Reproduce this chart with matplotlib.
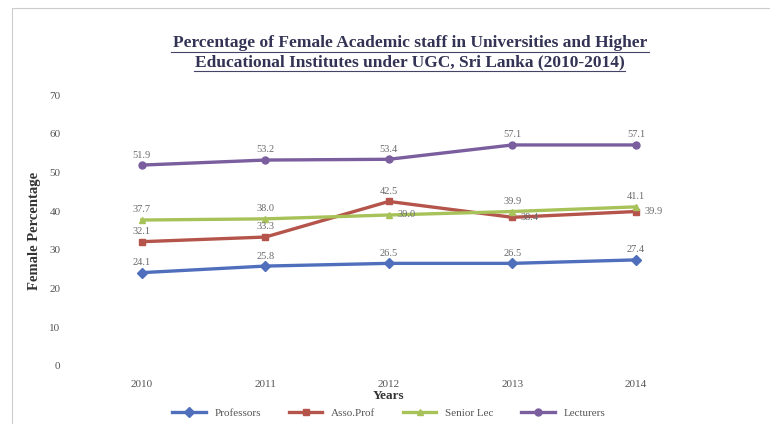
import matplotlib.pyplot as plt
from matplotlib.lines import Line2D

years = ["2010", "2011", "2012", "2013", "2014"]
professors = [24.1, 25.8, 26.5, 26.5, 27.4]
assoc_prof = [32.1, 33.3, 42.5, 38.4, 39.9]
senior_lec = [37.7, 38.0, 39.0, 39.9, 41.1]
lecturers = [51.9, 53.2, 53.4, 57.1, 57.1]

series = [
    ("Professors", professors, "#4F6FBD", "D"),
    ("Asso.Prof", assoc_prof, "#B5544A", "s"),
    ("Senior Lec", senior_lec, "#A8C25A", "^"),
    ("Lecturers", lecturers, "#7A5E9E", "o"),
]
# labels that would collide go to the right of the point
side_labels = {("Asso.Prof", 3), ("Asso.Prof", 4), ("Senior Lec", 2)}

plt.rcParams["font.family"] = ["Liberation Serif", "DejaVu Serif"]

fig = plt.figure(figsize=(7.77, 4.32), dpi=100)
ax = fig.add_axes([0.103, 0.153, 0.795, 0.627])

x = list(range(len(years)))
for name, vals, col, mk in series:
    ax.plot(x, vals, color=col, lw=2.4, marker=mk, ms=5, label=name)
    for xi, v in zip(x, vals):
        if (name, xi) in side_labels:
            ax.annotate(f"{v:.1f}", (xi, v), xytext=(6, 0), textcoords="offset points",
                        ha="left", va="center", fontsize=7.5, color="#6a6a6a")
        else:
            ax.annotate(f"{v:.1f}", (xi, v), xytext=(0, 4), textcoords="offset points",
                        ha="center", va="bottom", fontsize=7.5, color="#6a6a6a")

ax.set_xlim(-0.5, 4.5)
ax.set_ylim(0, 70)
ax.set_xticks(x)
ax.set_xticklabels(years, fontsize=8, color="#555555")
ax.set_yticks(range(0, 71, 10))
ax.tick_params(axis="y", labelsize=8, labelcolor="#555555", length=0, pad=14)
ax.tick_params(axis="x", length=0, pad=10)
for s in ax.spines.values():
    s.set_visible(False)

ax.set_ylabel("Female Percentage", fontsize=10.5, fontweight="bold", color="#333333", labelpad=6)
ax.set_xlabel("Years", fontsize=9.5, fontweight="bold", color="#333333", labelpad=1)

fig.text(0.528, 0.900, "Percentage of Female Academic staff in Universities and Higher",
         ha="center", va="center", fontsize=12.5, fontweight="bold", color="#333355")
fig.text(0.528, 0.856, "Educational Institutes under UGC, Sri Lanka (2010-2014)",
         ha="center", va="center", fontsize=12.5, fontweight="bold", color="#333355")
fig.add_artist(Line2D([0.22, 0.835], [0.879, 0.879], color="#444466", lw=0.8))
fig.add_artist(Line2D([0.25, 0.805], [0.835, 0.835], color="#444466", lw=0.8))

# light frame round the whole chart
fig.add_artist(Line2D([0.016, 0.016, 0.99], [0.02, 0.982, 0.982], color="#cccccc", lw=0.8))

ax.legend(loc="upper center", bbox_to_anchor=(0.5, -0.12), ncol=4, frameon=False,
          fontsize=8, handlelength=3, columnspacing=2.5, labelcolor="#555555")

fig.savefig("out.png", dpi=100)
